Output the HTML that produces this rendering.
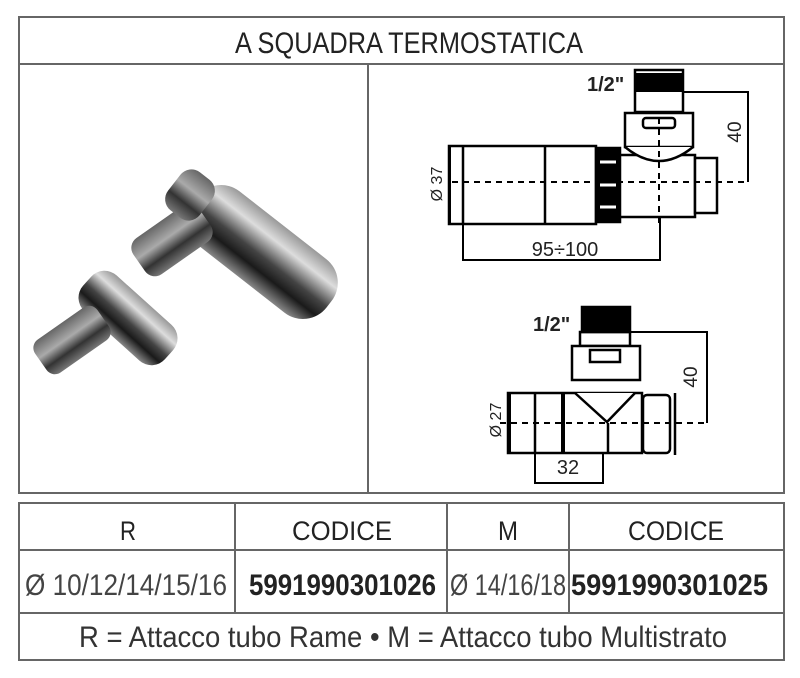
<!DOCTYPE html>
<html><head><meta charset="utf-8"><style>
body{margin:0;background:#fff;width:800px;height:678px;overflow:hidden;font-family:"Liberation Sans",sans-serif}
svg{position:absolute;left:0;top:0}
</style></head><body>
<svg width="800" height="678" viewBox="0 0 800 678" xmlns="http://www.w3.org/2000/svg">
<defs>
<linearGradient id="chrome" x1="0" y1="0" x2="0" y2="1">
<stop offset="0" stop-color="#999"/><stop offset="0.25" stop-color="#ddd"/><stop offset="0.55" stop-color="#444"/><stop offset="0.75" stop-color="#1a1a1a"/><stop offset="1" stop-color="#888"/>
</linearGradient>
<linearGradient id="chrome2" x1="0" y1="0" x2="0" y2="1">
<stop offset="0" stop-color="#666"/><stop offset="0.4" stop-color="#aaa"/><stop offset="0.7" stop-color="#333"/><stop offset="1" stop-color="#777"/>
</linearGradient>
</defs>
<g fill="none" stroke="#666" stroke-width="2">
<rect x="19" y="17" width="765" height="476"/>
<line x1="19" y1="64" x2="784" y2="64"/>
<line x1="368" y1="64" x2="368" y2="493"/>
<rect x="19" y="503" width="765" height="157"/>
<line x1="19" y1="550" x2="784" y2="550"/>
<line x1="19" y1="613" x2="784" y2="613"/>
<line x1="235" y1="503" x2="235" y2="613"/>
<line x1="447" y1="503" x2="447" y2="613"/>
<line x1="569" y1="503" x2="569" y2="613"/>
</g>
<g font-family="Liberation Sans Narrow, Liberation Sans, sans-serif" fill="#222">
<text x="235" y="53" font-size="30" textLength="348" lengthAdjust="spacingAndGlyphs">A SQUADRA TERMOSTATICA</text>
<text x="120" y="540" font-size="27" textLength="16" lengthAdjust="spacingAndGlyphs">R</text>
<text x="292" y="540" font-size="27" textLength="100" lengthAdjust="spacingAndGlyphs">CODICE</text>
<text x="498" y="540" font-size="27" textLength="20" lengthAdjust="spacingAndGlyphs">M</text>
<text x="628" y="540" font-size="27" textLength="96" lengthAdjust="spacingAndGlyphs">CODICE</text>
<text x="25" y="595" font-size="30" fill="#444" textLength="202" lengthAdjust="spacingAndGlyphs">Ø 10/12/14/15/16</text>
<text x="249" y="595" font-size="30" font-weight="bold" textLength="187" lengthAdjust="spacingAndGlyphs">5991990301026</text>
<text x="450" y="595" font-size="30" fill="#444" textLength="116" lengthAdjust="spacingAndGlyphs">Ø 14/16/18</text>
<text x="571" y="595" font-size="30" font-weight="bold" textLength="197" lengthAdjust="spacingAndGlyphs">5991990301025</text>
<text x="79" y="647" font-size="30" fill="#333" textLength="648" lengthAdjust="spacingAndGlyphs">R = Attacco tubo Rame • M = Attacco tubo Multistrato</text>
</g>
<!-- photo -->
<g>
<rect x="-85" y="-34" width="170" height="68" rx="30" fill="url(#chrome)" transform="translate(262 252) rotate(38)"/>
<rect x="-40" y="-22" width="80" height="44" rx="12" fill="url(#chrome2)" transform="translate(172 240) rotate(-35)"/>
<rect x="-20" y="-24" width="40" height="48" rx="14" fill="url(#chrome2)" transform="translate(190 195) rotate(38)"/>
<rect x="-55" y="-24" width="110" height="48" rx="18" fill="url(#chrome)" transform="translate(128 318) rotate(42)"/>
<rect x="-38" y="-20" width="76" height="40" rx="10" fill="url(#chrome2)" transform="translate(72 340) rotate(-35)"/>
</g>
<!-- top drawing -->
<g stroke="#000" stroke-width="2.5" fill="#fff">
<rect x="449" y="146" width="147" height="78"/>
<line x1="463" y1="146" x2="463" y2="224"/>
<line x1="545" y1="146" x2="545" y2="224"/>
<rect x="596" y="148" width="24" height="74" fill="#000"/>
<rect x="620" y="155" width="75" height="62"/>
<rect x="695" y="158" width="22" height="55"/>
<rect x="625" y="113" width="68" height="34"/>
<path d="M625 147 Q659 175 693 147" />
<rect x="635" y="70" width="48" height="42"/>
<rect x="636" y="73" width="46" height="19" fill="#000" stroke="none"/>
<rect x="643" y="118" width="32" height="10" rx="3"/>
</g>
<g stroke="#fff" stroke-width="3"><line x1="600" y1="162" x2="616" y2="162"/><line x1="600" y1="185" x2="616" y2="185"/><line x1="600" y1="207" x2="616" y2="207"/></g>
<g stroke="#000" stroke-width="2" fill="none">
<line x1="452" y1="182" x2="748" y2="182" stroke-dasharray="6 5"/>
<line x1="659" y1="118" x2="659" y2="224" stroke-dasharray="6 5"/>
<polyline points="683,92 748,92 748,182"/>
<line x1="450" y1="146" x2="450" y2="224"/>
<polyline points="463,224 463,260 660,260 660,217"/>
</g>
<g font-family="Liberation Sans Narrow, Liberation Sans, sans-serif" fill="#222" font-size="19">
<text x="587" y="91" font-weight="bold" font-size="20">1/2"</text>
<text x="0" y="0" transform="translate(741 132) rotate(-90)" text-anchor="middle">40</text>
<text x="0" y="0" transform="translate(442 184) rotate(-90)" text-anchor="middle" font-size="16">Ø 37</text>
<text x="565" y="256" text-anchor="middle" font-size="20">95÷100</text>
</g>
<!-- bottom drawing -->
<g stroke="#000" stroke-width="2.5" fill="#fff">
<rect x="580" y="332" width="50" height="14"/>
<rect x="582" y="307" width="48" height="25" fill="#000"/>
<rect x="572" y="346" width="68" height="34"/>
<rect x="590" y="350" width="30" height="12"/>
<rect x="508" y="393" width="134" height="60"/>
<line x1="535" y1="393" x2="535" y2="453"/>
<line x1="563" y1="393" x2="563" y2="453" stroke-width="4"/>
<line x1="608" y1="423" x2="608" y2="453"/>
<polyline points="575,393 607,422 635,393"/>
<rect x="643" y="395" width="27" height="58" rx="4"/>
<line x1="675" y1="393" x2="675" y2="455"/>
</g>
<g stroke="#000" stroke-width="2" fill="none">
<line x1="500" y1="423" x2="707" y2="423" stroke-dasharray="6 5"/>
<polyline points="630,332 707,332 707,423"/>
<line x1="510" y1="393" x2="510" y2="453"/>
<polyline points="535,453 535,483 603,483 603,453"/>
</g>
<g font-family="Liberation Sans Narrow, Liberation Sans, sans-serif" fill="#222" font-size="19">
<text x="533" y="331" font-weight="bold" font-size="20">1/2"</text>
<text x="0" y="0" transform="translate(697 377) rotate(-90)" text-anchor="middle">40</text>
<text x="0" y="0" transform="translate(501 420) rotate(-90)" text-anchor="middle" font-size="16">Ø 27</text>
<text x="568" y="474" text-anchor="middle" font-size="20">32</text>
</g>
</svg>
</body></html>
